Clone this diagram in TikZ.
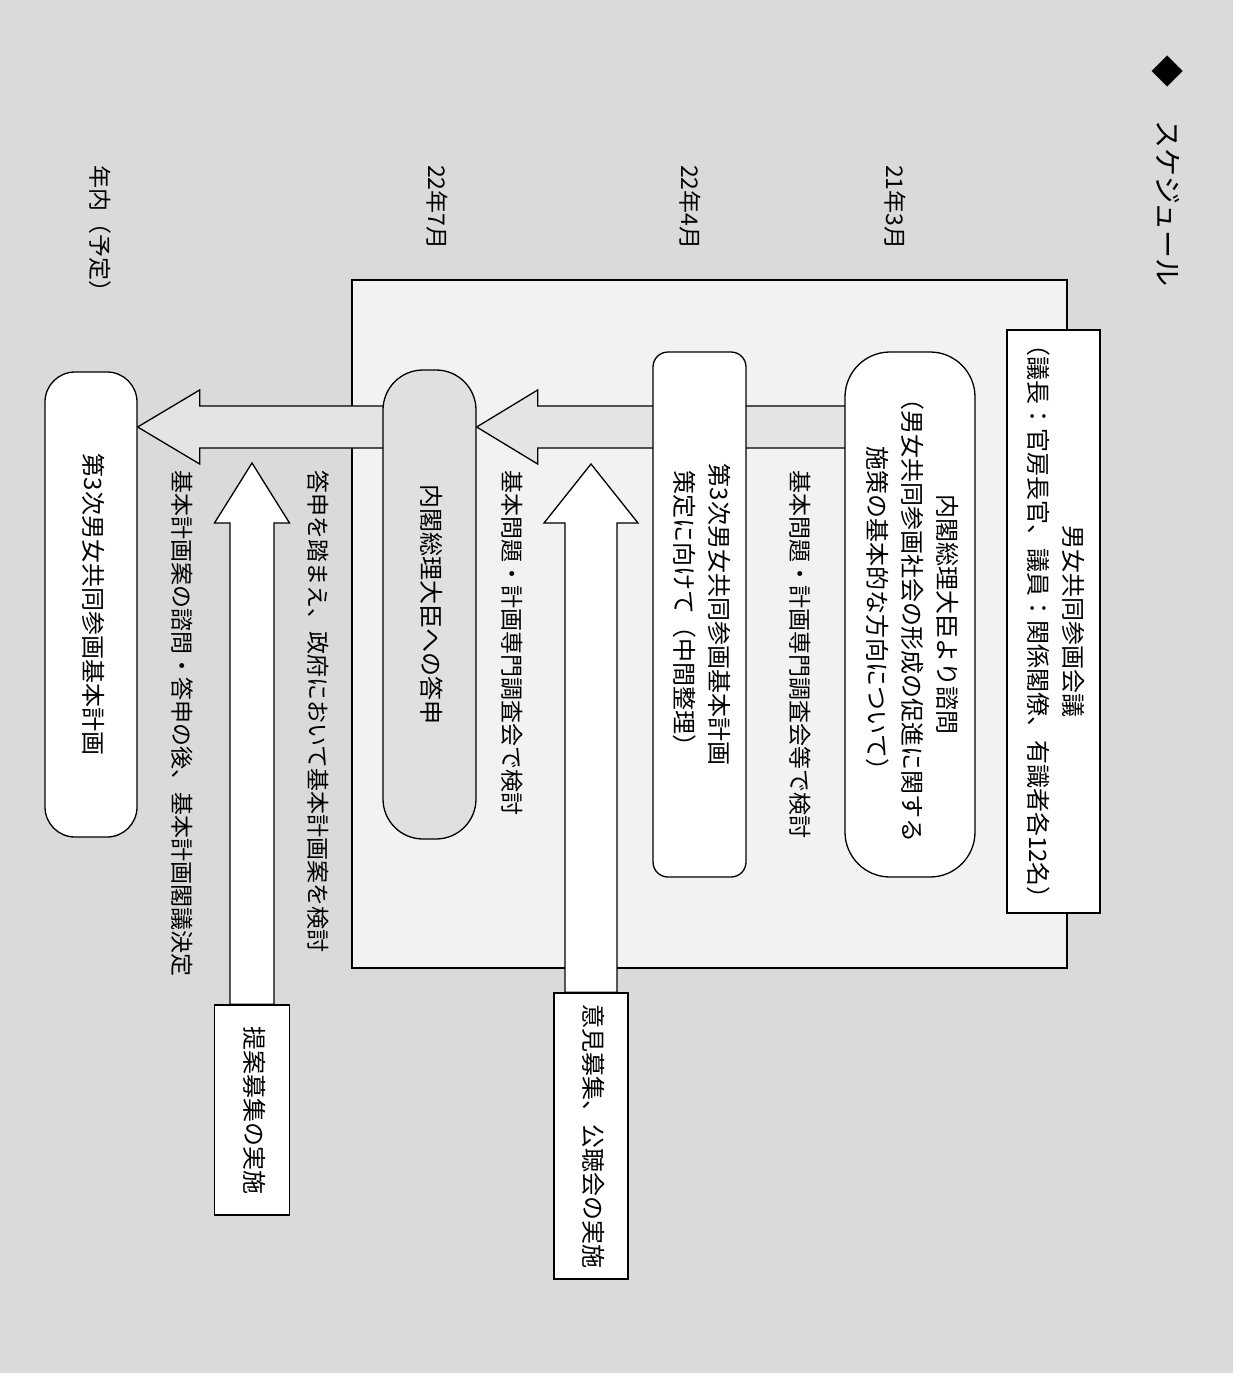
\documentclass[tikz,border=0pt]{standalone}
\usepackage{fontspec}
\setmainfont{Noto Sans CJK JP}
\usepackage{graphicx}
\usetikzlibrary{calc}
\definecolor{pagegray}{HTML}{DADADA}
\definecolor{panelgray}{HTML}{F2F2F2}
\definecolor{shaftgray}{HTML}{E4E4E4}
\definecolor{answergray}{HTML}{E0E0E0}
\pgfdeclarelayer{back}
\pgfdeclarelayer{mid}
\pgfsetlayers{back,mid,main}
\newcommand{\vtext}[1]{\rotatebox{-90}{\begin{tabular}{@{}c@{}}#1\end{tabular}}}
\tikzset{
  box/.style      = {shape=rectangle, draw, fill=white, line width=1.3pt,
                     inner sep=0pt, font=\fontsize{24}{35}\selectfont},
  roundbox/.style = {box, rounded corners=#1pt},
  panel/.style    = {shape=rectangle, draw, fill=panelgray, line width=1.6pt},
  lbl/.style      = {rotate=-90, anchor=west, inner sep=0pt,
                     font=\fontsize{23}{26}\selectfont},
  harrow/.style   = {draw, fill=shaftgray, line width=1.3pt},
  varrow/.style   = {draw, fill=white, line width=1.3pt}
}
\begin{document}
\begin{tikzpicture}[x=1pt, y=-1pt]
  \begin{pgfonlayer}{back}
    \fill[pagegray] (0,0) rectangle (1233,1373);
    \node[panel, minimum width=715, minimum height=688] (kaigi) at (709.5,624) {};
  \end{pgfonlayer}

  % title
  \node[rotate=-90, inner sep=0pt, font=\fontsize{32}{32}\selectfont] (mark) at (1168,71) {◆};
  \node[lbl, font=\fontsize{28}{30}\selectfont] (title) at (1168,120) {スケジュール};

  % dates
  \node[lbl] (d1) at (895,165) {21年3月};
  \node[lbl] (d2) at (690,165) {22年4月};
  \node[lbl] (d3) at (437,165) {22年7月};
  \node[lbl] (d4) at (100,165) {年内（予定）};

  % boxes
  \node[box, minimum width=93, minimum height=583] (council) at (1053.5,621.5)
    {\vtext{男女共同参画会議\\（議長：官房長官、議員：関係閣僚、有識者各12名）}};
  \node[roundbox=45, minimum width=130, minimum height=525] (shimon) at (910,614.5)
    {\vtext{内閣総理大臣より諮問\\（男女共同参画社会の形成の促進に関する\\施策の基本的な方向について）}};
  \node[roundbox=15, minimum width=93, minimum height=525] (chukan) at (699.5,614.5)
    {\vtext{第3次男女共同参画基本計画\\策定に向けて（中間整理）}};
  \node[roundbox=40, fill=answergray, minimum width=93, minimum height=469] (toshin) at (429.5,604.5)
    {\vtext{内閣総理大臣への答申}};
  \node[roundbox=30, minimum width=92, minimum height=465] (kihon) at (91,604.5)
    {\vtext{第3次男女共同参画基本計画}};
  \node[box, minimum width=74, minimum height=286] (iken) at (591,1136)
    {\vtext{意見募集、公聴会の実施}};
  \node[box, minimum width=75, minimum height=210] (teian) at (252,1110)
    {\vtext{提案募集の実施}};

  % labels
  \node[lbl] (k1) at (800,470) {基本問題・計画専門調査会等で検討};
  \node[lbl] (k2) at (512,470) {基本問題・計画専門調査会で検討};
  \node[lbl] (k3) at (318,470) {答申を踏まえ、政府において基本計画案を検討};
  \node[lbl] (k4) at (182,470) {基本計画案の諮問・答申の後、基本計画閣議決定};

  % arrows
  \coordinate (ax) at (0,427);
  \coordinate (tip1) at (591,464);
  \coordinate (tip2) at (252,463);
  \begin{pgfonlayer}{mid}
    \draw[harrow] ($(shimon.center |- ax)+(0,-21)$) -- ($(toshin.east |- ax)+(61,-21)$) -- ++(0,-16)
      -- (toshin.east |- ax) -- ($(toshin.east |- ax)+(61,37)$) -- ++(0,-16)
      -- ($(shimon.center |- ax)+(0,21)$) -- cycle;
    \draw[harrow] ($(toshin.center |- ax)+(0,-21)$) -- ($(kihon.east |- ax)+(62,-21)$) -- ++(0,-16)
      -- (kihon.east |- ax) -- ($(kihon.east |- ax)+(62,37)$) -- ++(0,-16)
      -- ($(toshin.center |- ax)+(0,21)$) -- cycle;
    \draw[varrow] ($(iken.north)+(-26,0)$) -- ($(tip1)+(-26,59)$) -- ++(-21,0)
      -- (tip1) -- ($(tip1)+(47,59)$) -- ++(-21,0) -- ($(iken.north)+(26,0)$) -- cycle;
    \draw[varrow] ($(teian.north)+(-22,0)$) -- ($(tip2)+(-22,60)$) -- ++(-15.5,0)
      -- (tip2) -- ($(tip2)+(37.5,60)$) -- ++(-15.5,0) -- ($(teian.north)+(22,0)$) -- cycle;
  \end{pgfonlayer}
\end{tikzpicture}
\end{document}
